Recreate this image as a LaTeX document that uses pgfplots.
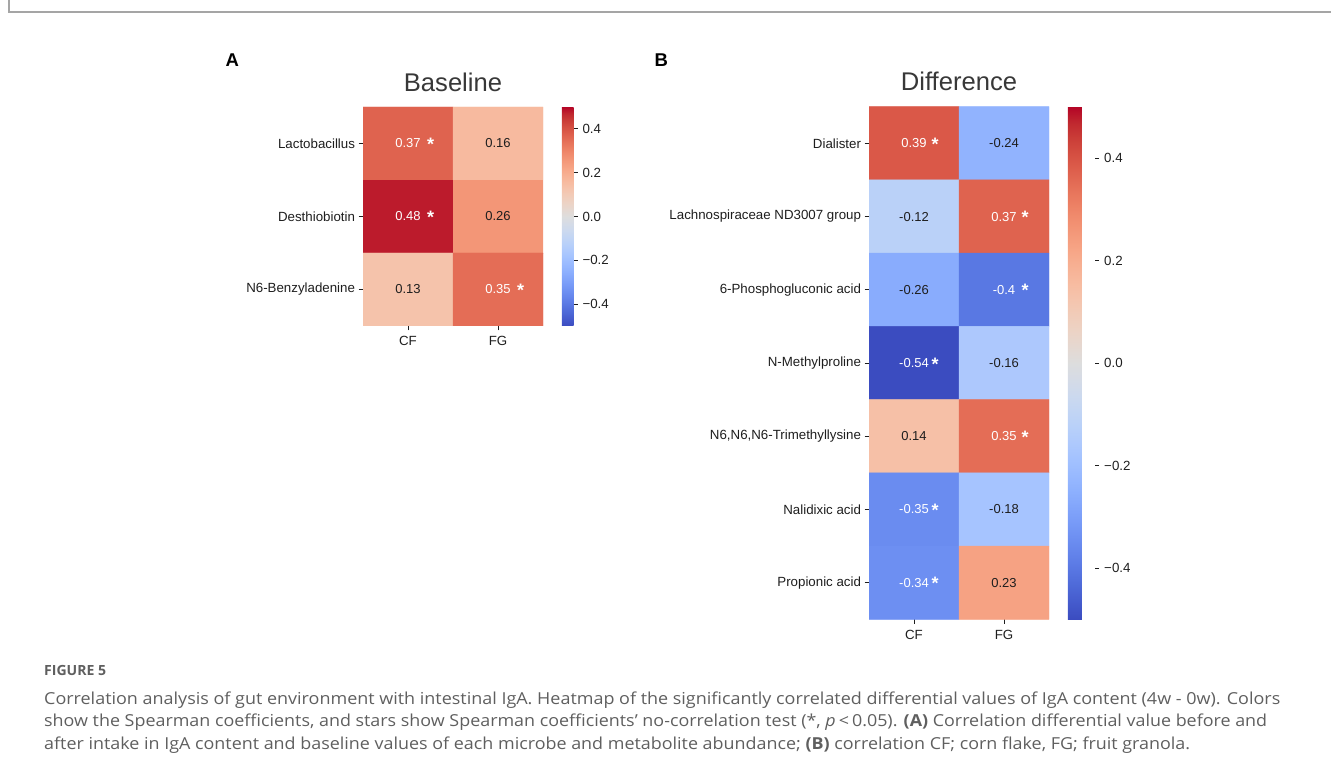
\documentclass[border=0pt]{standalone}
\usepackage{fontspec}
\setmainfont{Liberation Sans}
\newfontfamily\capfont{Open Sans}
\usepackage{graphicx}
\usepackage{pgfplots}
\usepackage{pgfplotstable}
\pgfplotsset{compat=1.18}

\pgfplotsset{colormap={coolwarm}{
rgb255=(59,76,192) rgb255=(68,90,204) rgb255=(77,104,215) rgb255=(87,117,225)
rgb255=(98,130,234) rgb255=(108,142,241) rgb255=(119,154,247) rgb255=(130,165,251)
rgb255=(141,176,254) rgb255=(152,185,255) rgb255=(163,194,255) rgb255=(174,201,253)
rgb255=(184,208,249) rgb255=(194,213,244) rgb255=(204,217,238) rgb255=(213,219,230)
rgb255=(221,221,221) rgb255=(229,216,209) rgb255=(236,211,197) rgb255=(241,204,185)
rgb255=(245,196,173) rgb255=(247,187,160) rgb255=(247,177,148) rgb255=(247,166,135)
rgb255=(244,154,123) rgb255=(241,141,111) rgb255=(236,127,99) rgb255=(229,112,88)
rgb255=(222,96,77) rgb255=(213,80,66) rgb255=(203,62,56) rgb255=(192,40,47)
rgb255=(180,4,38)}}

\definecolor{capgray}{RGB}{95,95,95}
\definecolor{framegray}{RGB}{165,165,165}
\definecolor{ticktxt}{RGB}{30,30,30}

% Panel A: baseline correlations (x: 0=CF, 1=FG; y: row index)
\pgfplotstableread{
x y v
0 0 0.37
1 0 0.16
0 1 0.48
1 1 0.26
0 2 0.13
1 2 0.35
}\tabA
% Panel B: difference correlations
\pgfplotstableread{
x y v
0 0 0.39
1 0 -0.24
0 1 -0.12
1 1 0.37
0 2 -0.26
1 2 -0.40
0 3 -0.54
1 3 -0.16
0 4 0.14
1 4 0.35
0 5 -0.35
1 5 -0.18
0 6 -0.34
1 6 0.23
}\tabB

\newcommand{\tfont}{\fontsize{13.3bp}{16bp}\selectfont}
\newcommand{\afont}{\fontsize{13bp}{16bp}\selectfont}
\newcommand{\sfont}{\fontsize{18bp}{18bp}\selectfont\bfseries}

\pgfplotsset{
  hm/.style={
    scale only axis, width=180bp,
    xmin=-0.5, xmax=1.5, ymin=-0.5,
    y dir=reverse,
    axis line style={draw=none},
    tick align=outside,
    xtick pos=bottom, ytick pos=left,
    major tick length=4.5bp,
    tick style={draw=ticktxt, line width=0.8bp},
    tick label style={font=\tfont, text=ticktxt},
    xticklabel style={yshift=-2.5bp},
    xtick={0,1}, xticklabels={CF,FG},
    colormap name=coolwarm,
    point meta min=-0.5, point meta max=0.5,
    title style={at={(0.5,1)}, anchor=base, yshift=10bp,
      font=\fontsize{25.6bp}{30bp}\selectfont, text=black!78},
    colorbar,
  },
  cb/.style={
    colorbar style={
      at={(parent axis.north east)}, anchor=north west, xshift=10.3bp,
      width=#1, y dir=normal,
      ytick={-0.4,-0.2,0,0.2,0.4},
      yticklabels={−0.4,−0.2,0.0,0.2,0.4},
      axis line style={draw=none},
      tick align=outside, ytick pos=right, yticklabel pos=right,
      major tick length=4bp,
      ytick style={draw=ticktxt, line width=0.8bp},
      yticklabel style={font=\tfont, text=ticktxt, xshift=1.5bp},
    }
  },
  lab/.style={draw=none, mark=none, nodes near coords, point meta=explicit symbolic,
    nodes near coords style={anchor=center, font=\afont, text=#1}},
  star/.style={draw=none, mark=none, nodes near coords={*}, 
    nodes near coords style={anchor=center, font=\sfont, text=white, xshift=#1, yshift=-1bp}},
}

\begin{document}
\begin{tikzpicture}
\path[use as bounding box] (0bp,0bp) rectangle (1331bp,774bp);
% frame
\draw[framegray, line width=1.5bp] (9bp,774bp) -- (9bp,762bp) -- (1331bp,762bp);

% panel letters
\node[anchor=base west, inner sep=0, font=\fontsize{18.5bp}{20bp}\selectfont\bfseries] at (225.5bp,707.5bp) {A};
\node[anchor=base west, inner sep=0, font=\fontsize{18.5bp}{20bp}\selectfont\bfseries] at (654.5bp,707.5bp) {B};

% ---------- Panel A ----------
\begin{axis}[hm, cb=11.7bp, height=219bp, ymax=2.5,
  at={(363bp,448bp)}, anchor=south west,
  title={Baseline},
  ytick={0,1,2}, yticklabels={Lactobacillus,Desthiobiotin,N6-Benzyladenine}]
\addplot[matrix plot*, mesh/cols=2, point meta=explicit, draw=none] table[x=x,y=y,meta=v] {\tabA};
\addplot[lab=white] table[meta=l] {
x y l
0 0 0.37
0 1 0.48
1 2 0.35
};
\addplot[lab=ticktxt] table[meta=l] {
x y l
1 0 0.16
1 1 0.26
0 2 0.13
};
\addplot[star=22.7bp] table {
x y
0 0
0 1
1 2
};
\end{axis}

% ---------- Panel B ----------
\begin{axis}[hm, cb=27.4bp, height=512.6bp, ymax=6.5,
  at={(869bp,154.7bp)}, anchor=south west,
  title={Difference},
  ytick={0,1,2,3,4,5,6},
  yticklabels={Dialister,Lachnospiraceae ND3007 group,6-Phosphogluconic acid,N-Methylproline,{N6,N6,N6-Trimethyllysine},Nalidixic acid,Propionic acid}]
\addplot[matrix plot*, mesh/cols=2, point meta=explicit, draw=none] table[x=x,y=y,meta=v] {\tabB};
\addplot[lab=white] table[meta=l] {
x y l
0 0 0.39
1 1 0.37
1 2 -0.4
0 3 -0.54
1 4 0.35
0 5 -0.35
0 6 -0.34
};
\addplot[lab=ticktxt] table[meta=l] {
x y l
1 0 -0.24
0 1 -0.12
0 2 -0.26
1 3 -0.16
0 4 0.14
1 5 -0.18
1 6 0.23
};
\addplot[star=21bp] table {
x y
0 0
1 1
1 2
0 3
1 4
0 5
0 6
};
\end{axis}

% ---------- caption ----------
\node[anchor=base west, inner sep=0, text=capgray, font=\capfont\fontsize{14bp}{16bp}\selectfont\bfseries] at (44bp,98bp) {\resizebox{62bp}{\height}{FIGURE 5}};
\node[anchor=base west, inner sep=0, text=capgray, font=\capfont\fontsize{16.5bp}{20bp}\selectfont] at (44bp,69bp) {\resizebox{1236bp}{\height}{Correlation analysis of gut environment with intestinal IgA. Heatmap of the significantly correlated differential values of IgA content (4w - 0w). Colors}};
\node[anchor=base west, inner sep=0, text=capgray, font=\capfont\fontsize{16.5bp}{20bp}\selectfont] at (44bp,47bp) {\resizebox{1223bp}{\height}{show the Spearman coefficients, and stars show Spearman coefficients’ no-correlation test (*, \textit{p}\,<\,0.05). \textbf{(A)} Correlation differential value before and}};
\node[anchor=base west, inner sep=0, text=capgray, font=\capfont\fontsize{16.5bp}{20bp}\selectfont] at (44bp,25bp) {\resizebox{1146bp}{\height}{after intake in IgA content and baseline values of each microbe and metabolite abundance; \textbf{(B)} correlation CF; corn flake, FG; fruit granola.}};
\end{tikzpicture}
\end{document}
